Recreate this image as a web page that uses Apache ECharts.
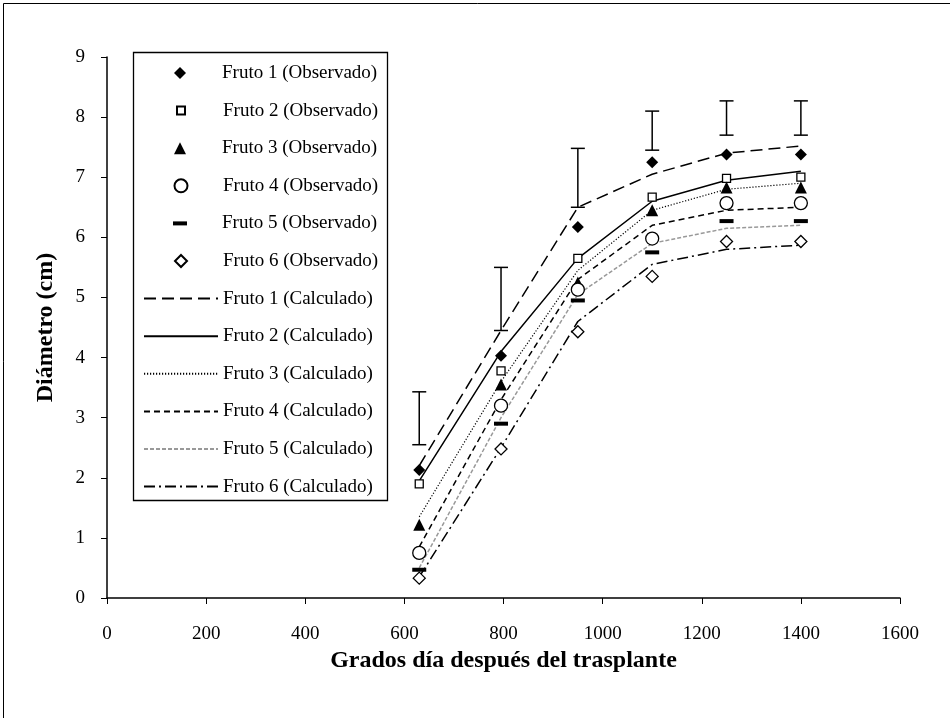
<!DOCTYPE html>
<html lang="es">
<head>
  <meta charset="UTF-8">
  <title>Diámetro de fruto</title>
  <style>
    body { margin: 0; padding: 0; background: #fff; }
    #chart { width: 950px; height: 718px; }
  </style>
</head>
<body>
  <div id="chart"></div>
  <script src="https://cdn.jsdelivr.net/npm/echarts@6/dist/echarts.min.js"></script>
  <script>
    // grados dia despues del trasplante
    var dias = [630, 795, 950, 1100, 1250, 1400];

    // observado
    var obs1 = [2.13, 4.03, 6.17, 7.25, 7.38, 7.38];
    var obs2 = [1.90, 3.78, 5.65, 6.67, 6.98, 7.00];
    var obs3 = [1.22, 3.55, 5.25, 6.45, 6.83, 6.83];
    var obs4 = [0.75, 3.20, 5.13, 5.98, 6.57, 6.57];
    var obs5 = [0.47, 2.90, 4.95, 5.75, 6.27, 6.27];
    var obs6 = [0.33, 2.48, 4.43, 5.35, 5.93, 5.93];

    // calculado
    var calc1 = [2.20, 4.45, 6.50, 7.05, 7.40, 7.52];
    var calc2 = [1.95, 4.10, 5.65, 6.60, 6.95, 7.10];
    var calc3 = [1.35, 3.60, 5.45, 6.45, 6.80, 6.90];
    var calc4 = [0.85, 3.30, 5.30, 6.20, 6.45, 6.50];
    var calc5 = [0.50, 3.00, 5.05, 5.90, 6.15, 6.20];
    var calc6 = [0.35, 2.50, 4.60, 5.55, 5.80, 5.87];

    // barras de error (inferior, superior)
    var errLow = [2.55, 4.45, 6.50, 7.45, 7.70, 7.70];
    var errHigh = [3.43, 5.50, 7.48, 8.10, 8.27, 8.27];

    var serif = "'Liberation Serif', 'Times New Roman', serif";

    function pts(ys) {
      return dias.map(function (x, i) { return [x, ys[i]]; });
    }

    var P_DIAMOND = 'path://M5,0L10,5L5,10L0,5Z';
    var P_SQUARE = 'path://M0,0H10V10H0Z';
    var P_TRIANGLE = 'path://M5,0L10,10L0,10Z';
    var P_DASH = 'path://M0,0H14V4H0Z';

    var observed = [
      { name: 'Fruto 1 (Observado)', data: obs1, symbol: 'diamond', icon: P_DIAMOND, size: 12, iw: 12, fill: '#000' },
      { name: 'Fruto 2 (Observado)', data: obs2, symbol: 'rect', icon: P_SQUARE, size: 8, iw: 8, fill: '#fff' },
      { name: 'Fruto 3 (Observado)', data: obs3, symbol: 'triangle', icon: P_TRIANGLE, size: 12, iw: 12, fill: '#000' },
      { name: 'Fruto 4 (Observado)', data: obs4, symbol: 'circle', icon: 'circle', size: 13, iw: 13, fill: '#fff' },
      { name: 'Fruto 5 (Observado)', data: obs5, symbol: P_DASH, icon: P_DASH, size: 4, iw: 14, fill: '#000' },
      { name: 'Fruto 6 (Observado)', data: obs6, symbol: 'diamond', icon: P_DIAMOND, size: 12, iw: 12, fill: '#fff' }
    ];

    var calculated = [
      { name: 'Fruto 1 (Calculado)', data: calc1, color: '#000', width: 1.5, type: [12, 6] },
      { name: 'Fruto 2 (Calculado)', data: calc2, color: '#000', width: 1.5, type: 'solid' },
      { name: 'Fruto 3 (Calculado)', data: calc3, color: '#000', width: 1.2, type: [1.2, 1.8] },
      { name: 'Fruto 4 (Calculado)', data: calc4, color: '#000', width: 1.5, type: [6, 4] },
      { name: 'Fruto 5 (Calculado)', data: calc5, color: '#999', width: 1.5, type: [4, 2] },
      { name: 'Fruto 6 (Calculado)', data: calc6, color: '#000', width: 1.5, type: [11, 4, 2, 4] }
    ];

    var series = [];

    calculated.forEach(function (c) {
      series.push({
        name: c.name,
        type: 'line',
        data: pts(c.data),
        showSymbol: false,
        symbol: 'none',
        z: 2,
        lineStyle: { color: c.color, width: c.width, type: c.type },
        itemStyle: { color: c.color }
      });
    });

    observed.forEach(function (o) {
      series.push({
        name: o.name,
        type: 'scatter',
        data: pts(o.data),
        symbol: o.symbol,
        symbolSize: o.symbol === P_DASH ? [14, 4] : o.size,
        z: 4,
        itemStyle: {
          color: o.fill,
          borderColor: '#000',
          borderWidth: o.fill === '#fff' ? 1.3 : 0,
          opacity: 1
        }
      });
    });

    // barras de error flotantes
    series.push({
      name: 'error',
      type: 'custom',
      z: 3,
      data: dias.map(function (x, i) { return [x, errLow[i], errHigh[i]]; }),
      renderItem: function (params, api) {
        var lo = api.coord([api.value(0), api.value(1)]);
        var hi = api.coord([api.value(0), api.value(2)]);
        var half = 7;
        var st = { stroke: '#000', lineWidth: 1.5 };
        return {
          type: 'group',
          children: [
            { type: 'line', shape: { x1: lo[0], y1: lo[1], x2: hi[0], y2: hi[1] }, style: st },
            { type: 'line', shape: { x1: lo[0] - half, y1: lo[1], x2: lo[0] + half, y2: lo[1] }, style: st },
            { type: 'line', shape: { x1: hi[0] - half, y1: hi[1], x2: hi[0] + half, y2: hi[1] }, style: st }
          ]
        };
      }
    });

    // leyenda: una fila por serie
    var rowTop = 73, rowStep = 37.6, textLH = 20, legendFont = 19;
    var legends = [];
    observed.forEach(function (o, i) {
      legends.push({
        data: [{ name: o.name, icon: o.icon }],
        left: 180 - o.iw / 2,
        top: rowTop + i * rowStep - textLH / 2,
        padding: 0,
        itemWidth: 74,
        itemHeight: o.size,
        symbolKeepAspect: true,
        selectedMode: false,
        textStyle: { fontFamily: serif, fontSize: legendFont, lineHeight: textLH, color: '#000' }
      });
    });
    calculated.forEach(function (c, i) {
      legends.push({
        data: [{ name: c.name, itemStyle: { opacity: 0 } }],
        left: 143,
        top: rowTop + (i + 6) * rowStep - textLH / 2,
        padding: 0,
        itemWidth: 74,
        itemHeight: 12,
        selectedMode: false,
        textStyle: { fontFamily: serif, fontSize: legendFont, lineHeight: textLH, color: '#000' }
      });
    });

    var chart = echarts.init(document.getElementById('chart'), null, { renderer: 'canvas' });

    var option = {
      animation: false,
      backgroundColor: '#fff',
      graphic: [{
        // marco exterior (recortado a la derecha y abajo)
        type: 'rect',
        shape: { x: 3.5, y: 3.5, width: 1000, height: 1000 },
        style: { fill: 'none', stroke: '#000', lineWidth: 1 },
        silent: true,
        z: -10
      }, {
        type: 'rect',
        shape: { x: 133.5, y: 52.5, width: 254, height: 448 },
        style: { fill: '#fff', stroke: '#000', lineWidth: 1.3 },
        silent: true,
        z: 1
      }],
      grid: { left: 107, right: 50, top: 57, bottom: 120 },
      legend: legends,
      xAxis: {
        type: 'value',
        min: 0,
        max: 1600,
        interval: 200,
        name: 'Grados día después del trasplante',
        nameLocation: 'middle',
        nameGap: 50,
        nameTextStyle: { fontFamily: serif, fontSize: 24, fontWeight: 'bold', color: '#000' },
        axisLine: { lineStyle: { color: '#000', width: 1.5 } },
        axisTick: { show: true, length: 6, lineStyle: { color: '#000', width: 1 } },
        axisLabel: {
          fontFamily: serif, fontSize: 19, color: '#000', margin: 27,
          formatter: function (v) { return String(v); }
        },
        splitLine: { show: false }
      },
      yAxis: {
        type: 'value',
        min: 0,
        max: 9,
        interval: 1,
        name: 'Diámetro (cm)',
        nameLocation: 'middle',
        nameGap: 49,
        nameRotate: 90,
        nameTextStyle: { fontFamily: serif, fontSize: 24, fontWeight: 'bold', color: '#000' },
        axisLine: { show: true, lineStyle: { color: '#000', width: 1.5 } },
        axisTick: { show: true, length: 6, lineStyle: { color: '#000', width: 1 } },
        axisLabel: { fontFamily: serif, fontSize: 19, color: '#000', margin: 22 },
        splitLine: { show: false }
      },
      series: series
    };

    chart.setOption(option);
  </script>
</body>
</html>
